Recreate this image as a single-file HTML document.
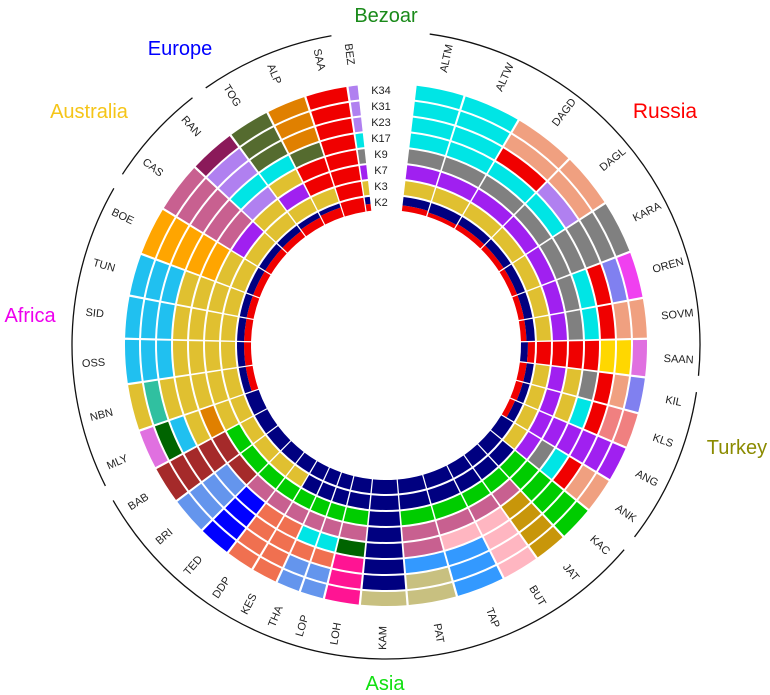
<!DOCTYPE html>
<html><head><meta charset="utf-8"><style>
html,body{margin:0;padding:0;background:#fff;}
svg{display:block;}
text{font-family:"Liberation Sans",sans-serif;}
</style></head><body>
<svg id="chart" width="770" height="695" viewBox="0 0 770 695" xmlns="http://www.w3.org/2000/svg">
<g id="cells"></g>
<g id="poplabels"></g>
<g id="grouparcs"></g>
<g id="klabels"></g>
<text x="386" y="22" font-size="20" fill="#1a8a1a" text-anchor="middle">Bezoar</text>
<text x="180" y="55" font-size="20" fill="#0000ff" text-anchor="middle">Europe</text>
<text x="89" y="118" font-size="20" fill="#f5c518" text-anchor="middle">Australia</text>
<text x="665" y="118" font-size="21" fill="#ff0000" text-anchor="middle">Russia</text>
<text x="30" y="322" font-size="20" fill="#ee00ee" text-anchor="middle">Africa</text>
<text x="737" y="454" font-size="20" fill="#8b8b00" text-anchor="middle">Turkey</text>
<text x="385" y="690" font-size="20" fill="#11e011" text-anchor="middle">Asia</text>
</svg>
<script>
const kLabels=["K2","K3","K7","K9","K17","K23","K31","K34"];
const pops=["ALTM","ALTW","DAGD","DAGL","KARA","OREN","SOVM","SAAN","KIL","KLS","ANG","ANK","KAC","JAT","BUT","TAP","PAT","KAM","LOH","LOP","THA","KES","DDP","TED","BRI","BAB","MLY","NBN","OSS","SID","TUN","BOE","CAS","RAN","TOG","ALP","SAA","BEZ"];
const popSizes=[22,26,28,25,24,21,18,17,16,16,16,16,16,15,17,22,22,21,16,11,11,12,13,15,17,17,18,21,20,19,19,22,23,21,19,18,19,5];
const groupNames=["Russia","Turkey","Asia","Africa","Australia","Europe","Bezoar"];
const groupCounts=[8,4,14,6,2,3,1];
const palette={R:"#f00000",N:"#000080",Y:"#e0c030",P:"#a020f0",G:"#808080",C:"#00e5e5",S:"#f0a080",M:"#f040f0",Gr:"#00cc00",Pk:"#c86090",Lp:"#ffb6c1",Gd:"#c8960a",Bl:"#3399ff",Kh:"#c8c080",HP:"#ff1493",DG:"#006400",OR:"#f07050",Bb:"#0000ff",CB:"#6495ed",BR:"#a52a2a",Tq:"#30c0a0",Or:"#ffa500",DS:"#20c0f0",OL:"#556b2f",AO:"#e08000",Mr:"#8b1a5a",LV:"#b080f0",Gold:"#ffd700",Vi:"#e070e0",SL:"#8080f0",LC:"#f08080"};
const cellColors=[
[["R",0.4,"N"],"Y","P","G","C","C","C","C"],
[["R",0.3,"N"],"Y","P","G","C","C","C","C"],
[["R",0.4,"N"],"Y","P","G","C","R","S","S"],
[["R",0.4,"N"],"Y","P","G","C","LV","S","S"],
[["R",0.4,"N"],"Y","P","G","G","G","G","G"],
[["R",0.4,"N"],"Y","P","G","C","R","SL","M"],
[["R",0.4,"N"],"Y","P","G","C","R","S","S"],
[["N",0.5,"R"],"R","R","R","R","Gold","Gold","Vi"],
[["R",0.5,"N"],"Y","P","Y","G","R","S","SL"],
[["R",0.5,"N"],"Y","P","Y","C","R","LC","LC"],
[["R",0.4,"N"],"Y","P","P","P","P","P","P"],
["N","Y","P","G","C","R","S","S"],
["N","N","Gr","Gr","Gr","Gr","Gr","Gr"],
["N","N","Gr","Pk","Gd","Gd","Gd","Gd"],
["N","N","Gr","Pk","Lp","Lp","Lp","Lp"],
["N","N","Gr","Pk","Lp","Bl","Bl","Bl"],
["N","N","Gr","Pk","Pk","Bl","Kh","Kh"],
["N","N","N","N","N","N","N","Kh"],
["N","N","Gr","Pk","DG","HP","HP","HP"],
["N","N","Gr","Pk","C","OR","CB","CB"],
["N","N","Gr","Pk","C","OR","CB","CB"],
["N","N","Gr","Pk","OR","OR","OR","OR"],
["N","Y","Gr","Pk","OR","OR","OR","OR"],
["N","Y","Gr","Pk","Bb","Bb","Bb","Bb"],
["N","Y","Gr","BR","CB","CB","CB","CB"],
["N","Y","Gr","BR","BR","BR","BR","BR"],
["N","Y","Y","AO","Y","DS","DG","Vi"],
[["R",0.5,"N"],"Y","Y","Y","Y","Y","Tq","Y"],
[["R",0.5,"N"],"Y","Y","Y","Y","DS","DS","DS"],
[["R",0.5,"N"],"Y","Y","Y","Y","DS","DS","DS"],
[["R",0.5,"N"],"Y","Y","Y","Y","DS","DS","DS"],
[["R",0.5,"N"],"Y","Y","Or","Or","Or","Or","Or"],
[["R",0.5,"N"],"Y","P","Pk","Pk","Pk","Pk","Pk"],
[["R",0.5,"N"],"Y","Y","LV","C","LV","LV","Mr"],
[["R",0.6,"N"],"Y","P","Y","C","OL","OL","OL"],
[["R",0.7,"N"],"Y","R","R","OL","AO","AO","AO"],
["R","R","R","R","R","R","R","R"],
[["R",0.5,"N"],"Y","P","G","C","LV","LV","LV"]
];
const cx=386,cy=345,r0=135,rw=16,rg=2,startA=6.5,endA=354;
const NS="http://www.w3.org/2000/svg";
function pt(a,r){const t=a*Math.PI/180;return [cx+r*Math.sin(t),cy-r*Math.cos(t)];}
function wedge(a1,a2,ri,ro){const l=(a2-a1)>180?1:0;const p1=pt(a1,ro),p2=pt(a2,ro),p3=pt(a2,ri),p4=pt(a1,ri);
return `M${p1[0].toFixed(2)},${p1[1].toFixed(2)}A${ro},${ro} 0 ${l} 1 ${p2[0].toFixed(2)},${p2[1].toFixed(2)}L${p3[0].toFixed(2)},${p3[1].toFixed(2)}A${ri},${ri} 0 ${l} 0 ${p4[0].toFixed(2)},${p4[1].toFixed(2)}Z`;}
const total=popSizes.reduce((a,b)=>a+b,0);
const scale=(endA-startA)/total;
const bounds=[startA];popSizes.forEach(s=>bounds.push(bounds[bounds.length-1]+s*scale));
const cells=document.getElementById('cells');
pops.forEach((p,i)=>{
  const a1=bounds[i]+0.25,a2=bounds[i+1]-0.25;
  cellColors[i].forEach((spec,k)=>{
    const ri=r0+k*rw,ro=ri+rw-rg;
    const parts=Array.isArray(spec)?[[spec[0],spec[1]],[spec[2],1-spec[1]]]:[[spec,1]];
    let r=ri;
    parts.forEach(([c,f])=>{
      const pth=document.createElementNS(NS,'path');
      pth.setAttribute('d',wedge(a1,a2,r,r+(ro-ri)*f));
      pth.setAttribute('fill',palette[c]);
      
      
      cells.appendChild(pth);r+=(ro-ri)*f;
    });
  });
  const am=(bounds[i]+bounds[i+1])/2;const q=pt(am,293);
  const rot=am<180?am-90:am-270;
  const t=document.createElementNS(NS,'text');
  t.setAttribute('x',q[0]);t.setAttribute('y',q[1]);
  t.setAttribute('transform',`rotate(${rot.toFixed(1)} ${q[0].toFixed(1)} ${q[1].toFixed(1)})`);
  t.setAttribute('text-anchor','middle');t.setAttribute('dominant-baseline','middle');
  t.setAttribute('font-size','11');t.setAttribute('fill','#222');
  
  
  t.textContent=p;document.getElementById('poplabels').appendChild(t);
});
let gi=0;
groupNames.forEach((g,j)=>{
  const a1=bounds[gi]+1.5,a2=bounds[gi+groupCounts[j]]-1.5;gi+=groupCounts[j];
  if(a2-a1<4)return;
  const p1=pt(a1,314),p2=pt(a2,314);
  const path=document.createElementNS(NS,'path');
  path.setAttribute('d',`M${p1[0]},${p1[1]}A314,314 0 ${(a2-a1)>180?1:0} 1 ${p2[0]},${p2[1]}`);
  path.setAttribute('fill','none');path.setAttribute('stroke','#111');path.setAttribute('stroke-width','1.3');
  
  
  document.getElementById('grouparcs').appendChild(path);
});
kLabels.forEach((k,i)=>{
  const r=r0+i*rw+(rw-rg)/2;
  const t=document.createElementNS(NS,'text');
  t.setAttribute('x',cx-5);t.setAttribute('y',cy-r);
  t.setAttribute('text-anchor','middle');t.setAttribute('dominant-baseline','middle');
  t.setAttribute('font-size','11');t.setAttribute('fill','#222');
  
  
  t.textContent=k;document.getElementById('klabels').appendChild(t);
});
</script>
</body></html>
